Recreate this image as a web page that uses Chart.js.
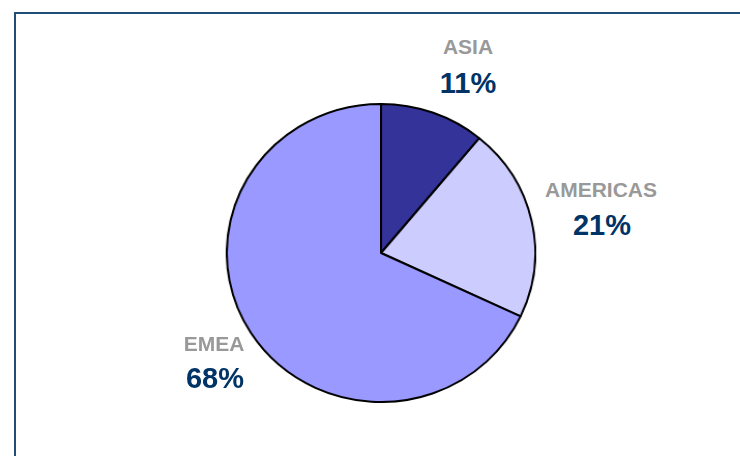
<!DOCTYPE html>
<html lang="en">
<head>
  <meta charset="UTF-8">
  <title>Regional split</title>
  <script src="https://cdn.jsdelivr.net/npm/chart.js"></script>
  <style>
    body { margin: 0; width: 740px; height: 456px; background: #fff; overflow: hidden; position: relative; font-family: "Liberation Sans", Arial, sans-serif; }
    .frame { position: absolute; left: 14px; top: 12px; width: 740px; height: 460px; border-top: 2px solid #1F4E79; border-left: 2px solid #1F4E79; }
    .pie { position: absolute; left: 231px; top: 103px; width: 300px; height: 300px; transform: scaleX(1.035); }
    .lbl { position: absolute; transform: translate(-50%, -50%); font-weight: bold; line-height: 1; white-space: nowrap; }
    .name { color: #999999; font-size: 21px; }
    .pct { color: #003366; font-size: 29px; }
  </style>
</head>
<body>
  <div class="frame"></div>
  <div class="pie"><canvas id="pieChart"></canvas></div>
  <div id="labels"></div>

  <script>
    const regions = ['ASIA', 'AMERICAS', 'EMEA'];
    const shares = [11, 21, 68];
    const sliceColors = ['#333399', '#CCCCFF', '#9999FF'];
    // where each label pair sits (centre of name, centre of percent)
    const labelSpots = [[468, 46, 468, 83], [601, 189, 602, 225], [214, 343, 215, 378]];

    new Chart(document.getElementById('pieChart'), {
      type: 'pie',
      data: {
        labels: regions,
        datasets: [{
          data: shares,
          backgroundColor: sliceColors,
          borderColor: '#000000',
          borderWidth: 2
        }]
      },
      options: {
        responsive: true,
        maintainAspectRatio: false,
        animation: false,
        layout: { padding: 0 },
        plugins: { legend: { display: false }, tooltip: { enabled: false } }
      }
    });

    const box = document.getElementById('labels');
    regions.forEach((r, i) => {
      const [nx, ny, px, py] = labelSpots[i];
      box.innerHTML += `<div class="lbl name" style="left:${nx}px;top:${ny}px">${r}</div>` +
        `<div class="lbl pct" style="left:${px}px;top:${py}px">${shares[i]}%</div>`;
    });
  </script>
</body>
</html>
